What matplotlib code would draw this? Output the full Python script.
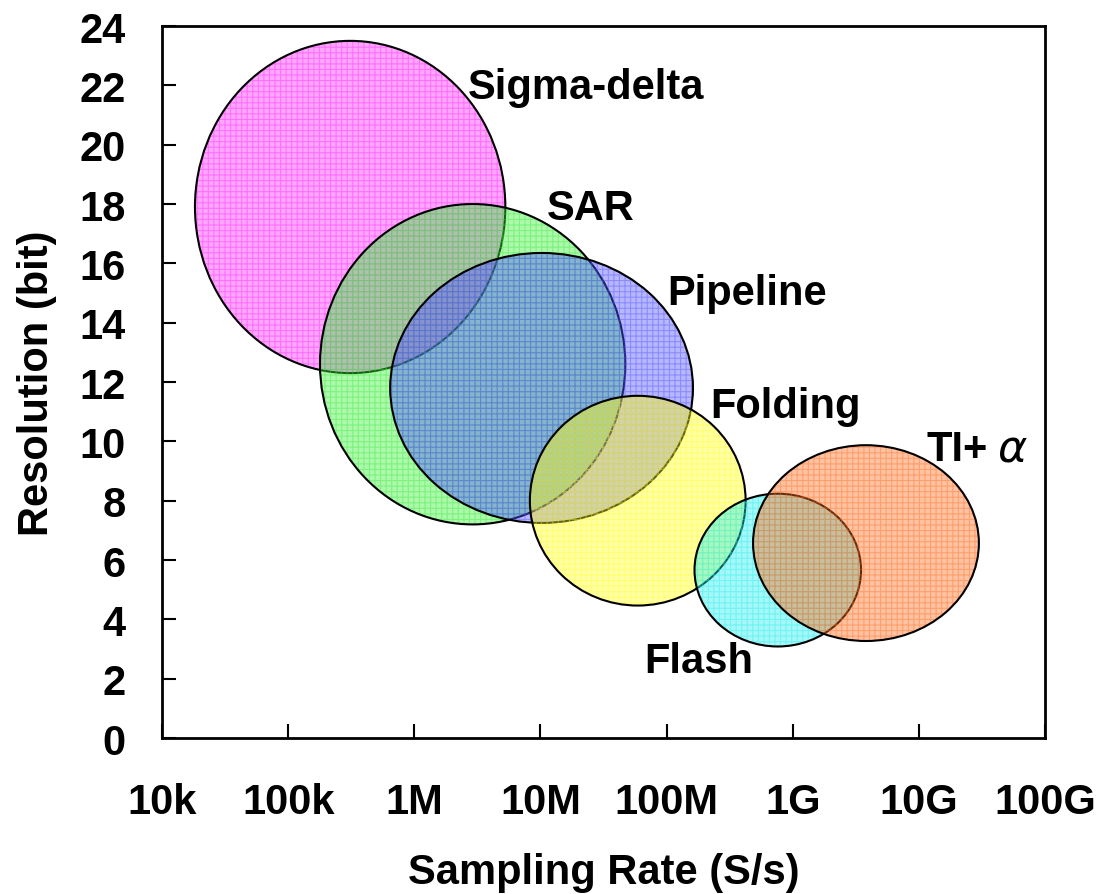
import numpy as np
import matplotlib
matplotlib.use("Agg")
import matplotlib.pyplot as plt
from matplotlib.patches import Ellipse

# ADC architectures: centre sampling rate (S/s), width in decades, centre resolution and height (bit)
names = ["Sigma-delta", "SAR", "Pipeline", "Folding", "Flash", "TI+"]
center_rate = [3.1e5, 2.9e6, 1.02e7, 5.9e7, 7.6e8, 3.8e9]
span_decades = [2.46, 2.42, 2.40, 1.71, 1.32, 1.79]
center_bits = [17.9, 12.6, 11.8, 8.0, 5.66, 6.57]
span_bits = [11.2, 10.8, 9.1, 7.07, 5.15, 6.6]
colors = ["#ff22ff", "#33ee33", "#4c4cff", "#ffff22", "#22eeee", "#ff6a1a"]

# label anchor points (rate, bit)
label_rate = [2.3e7, 2.5e7, 4.3e8, 8.7e8, 1.8e8, 3.5e10]
label_bits = [21.95, 17.85, 15.0, 11.2, 2.6, 9.75]

tick_rates = [1e4, 1e5, 1e6, 1e7, 1e8, 1e9, 1e10, 1e11]
tick_names = ["10k", "100k", "1M", "10M", "100M", "1G", "10G", "100G"]
ytick_vals = list(range(0, 25, 2))

plt.rcParams['font.family'] = ['Liberation Sans', 'DejaVu Sans']
plt.rcParams['font.weight'] = 'bold'
plt.rcParams['hatch.linewidth'] = 0.8
fs = 30

fig = plt.figure(figsize=(10.99, 8.95), dpi=100)
ax = fig.add_axes([0.1474, 0.1743, 0.8036, 0.7955])

for i in range(len(names)):
    cx = np.log10(center_rate[i])
    fill = Ellipse((cx, center_bits[i]), span_decades[i], span_bits[i],
                   facecolor=colors[i], edgecolor=colors[i], alpha=0.4,
                   hatch="+++", linewidth=0, zorder=2 + i)
    ax.add_patch(fill)
    outline = Ellipse((cx, center_bits[i]), span_decades[i], span_bits[i],
                      fill=False, edgecolor="black", linewidth=1.5, zorder=2 + i)
    ax.add_patch(outline)

for i in range(len(names)):
    lx = np.log10(label_rate[i])
    if names[i] == "TI+":
        ax.text(lx, label_bits[i], names[i], fontsize=fs, fontweight='bold',
                ha='right', va='center', zorder=20)
        ax.text(lx + 0.08, label_bits[i], "\u03b1", fontsize=fs + 2, fontweight='normal',
                style='italic', family=['DejaVu Sans'], ha='left', va='center', zorder=20)
    else:
        ax.text(lx, label_bits[i], names[i], fontsize=fs, fontweight='bold',
                ha='center', va='center', zorder=20)

ax.set_xlim(np.log10(tick_rates[0]), np.log10(tick_rates[-1]))
ax.set_ylim(0, 24)
ax.set_xticks(np.log10(tick_rates))
ax.set_xticklabels(tick_names)
ax.set_yticks(ytick_vals)
ax.tick_params(axis='x', direction='in', length=10, width=1.5, pad=32, labelsize=fs)
ax.tick_params(axis='y', direction='in', length=10, width=1.5, pad=26, labelsize=fs)
for s in ax.spines.values():
    s.set_linewidth(2)

ax.set_xlabel("Sampling Rate (S/s)", fontsize=fs, fontweight='bold', labelpad=21)
ax.set_ylabel("Resolution (bit)", fontsize=fs, fontweight='bold', labelpad=16)

plt.savefig("out.png", dpi=100)
